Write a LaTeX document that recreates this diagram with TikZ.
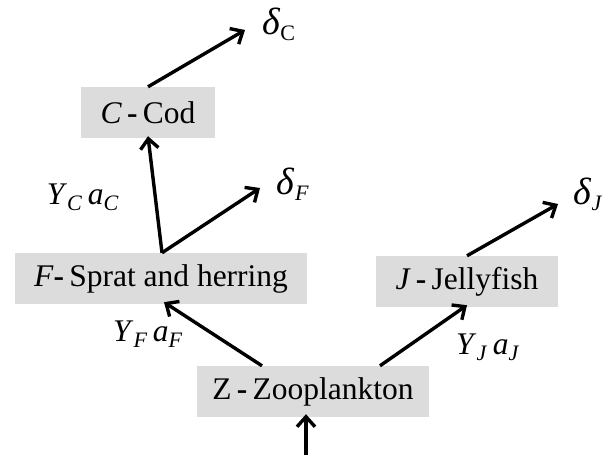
\documentclass[tikz,border=0pt]{standalone}
\usepackage{fontspec}
\setmainfont{Liberation Serif}
\usetikzlibrary{arrows.meta}
\definecolor{boxgray}{RGB}{220,220,220}
\newcommand{\bigdelta}{{\fontsize{38}{40}\selectfont\textit{δ}}}
\tikzset{
  box/.style={fill=boxgray, draw=none, minimum height=51pt, inner sep=0pt, font=\fontsize{31.5}{36}\selectfont},
  lbl/.style={inner sep=0pt, font=\fontsize{31.5}{36}\selectfont},
  arr/.style={line width=3.4pt, -{Straight Barb[length=10pt,width=18pt,line width=3.4pt]}}
}
\begin{document}
\begin{tikzpicture}[x=1pt,y=-1pt]
\useasboundingbox (0,0) rectangle (608,462);
\node[box, minimum width=134pt] (C) at (148,112.5) {\textit{C}\,\textbf{-}\,Cod};
\node[box, minimum width=292pt] (F) at (161,278.5) {\textit{F}\textbf{-}\,Sprat and herring};
\node[box, minimum width=182pt] (J) at (467,281.5) {\textit{J}\,\textbf{-}\,Jellyfish};
\node[box, minimum width=232pt] (Z) at (313,391.5) {Z\,\textbf{-}\,Zooplankton};
\node[lbl] (dC) at (279,24) {\bigdelta\textsubscript{C}};
\node[lbl] (dF) at (293,184) {\bigdelta\textsubscript{\textit{F}}};
\node[lbl] (dJ) at (588,194) {\bigdelta\textsubscript{\textit{J}}};
\node[lbl] (yc) at (83,197) {\textit{Y}\textsubscript{\textit{C}}\,\textit{a}\textsubscript{\textit{C}}};
\node[lbl] (yf) at (148,334) {\textit{Y}\textsubscript{\textit{F}}\,\textit{a}\textsubscript{\textit{F}}};
\node[lbl] (yj) at (488,347) {\textit{Y}\textsubscript{\textit{J}}\,\textit{a}\textsubscript{\textit{J}}};
\coordinate (eC) at (245,30);
\coordinate (eF) at (260,188);
\coordinate (eJ) at (558,204);
\coordinate (src) at (306,455);
\draw[arr] (C.north) -- (eC);
\draw[arr] ([xshift=1pt]F.north) -- ([yshift=2pt]C.south);
\draw[arr] ([xshift=1pt]F.north) -- (eF);
\draw[arr] ([xshift=-51pt]Z.north) -- ([xshift=3pt,yshift=2pt]F.south);
\draw[arr] ([xshift=67pt]Z.north) -- ([yshift=2pt]J.south);
\draw[arr] (J.north) -- (eJ);
\draw[arr] (src) -- ([xshift=-7pt,yshift=3pt]Z.south);
\end{tikzpicture}
\end{document}
